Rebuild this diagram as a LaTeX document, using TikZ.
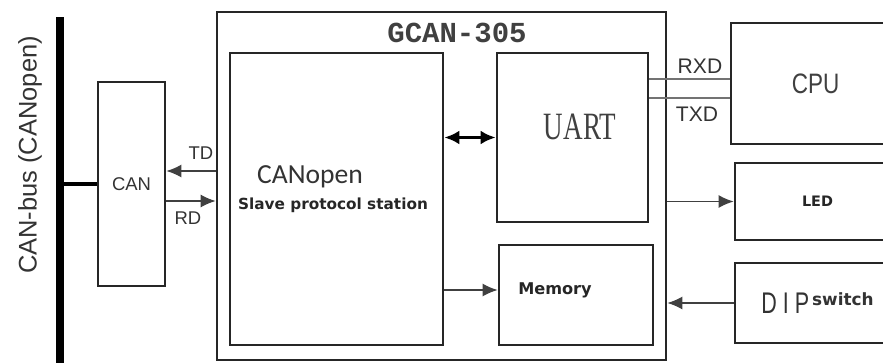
\documentclass[tikz,border=0pt]{standalone}
\usepackage{fontspec}
\setmainfont{Liberation Sans}
\newfontfamily\narrowsans[FakeStretch=0.8]{Liberation Sans}
\newfontfamily\narrowserif[FakeStretch=0.7]{Liberation Serif}
\newfontfamily\titlefont{Liberation Mono}
\newfontfamily\calfont{Carlito}
\newfontfamily\verdfont{DejaVu Sans}
\newfontfamily\dipfont[FakeStretch=0.72,LetterSpace=20]{Liberation Sans}
\usetikzlibrary{positioning, arrows.meta}

\begin{document}
\begin{tikzpicture}[
    x=0.02cm, y=-0.02cm,
    box/.style={rectangle, draw=black!85, line width=1.6pt, inner sep=0pt},
    arrow/.style={-{Latex[length=3mm, width=2.6mm]}, line width=0.8pt, draw=black!75},
    biarrow/.style={{Latex[length=3mm, width=2.8mm]}-{Latex[length=3mm, width=2.8mm]}, line width=2pt},
    sig/.style={line width=1pt, draw=black!55},
    tag/.style={font=\fontsize{10.5}{12}\selectfont, text=black!80, inner sep=1pt},
    bold/.style={font=\verdfont\bfseries, text=black!85, inner sep=0pt}
]
\useasboundingbox (0,0) rectangle (883,362);
\clip (0,0) rectangle (883,362);

% CAN bus
\coordinate (busT) at (60,17);
\coordinate (busB) at (60,366);
\draw[line width=4.5pt] (busT) -- (busB);
\node[rotate=90, font=\fontsize{14.5}{16}\selectfont, text=black!80] (buslbl) at (30,155) {CAN-bus (CANopen)};

% CAN transceiver
\node[box, minimum width=1.34cm, minimum height=4.08cm, font=\fontsize{10.5}{12}\selectfont, text=black!80] (can) at (131.5,184) {CAN};
\draw[line width=2.8pt] (can.west) -- (can.west -| busT);

% GCAN-305 module
\node[box, minimum width=8.98cm, minimum height=6.96cm] (gcan) at (441.5,186) {};
\node[font=\titlefont\bfseries\fontsize{16.5}{18}\selectfont, text=black!75] (title) at (457,33) {GCAN-305};

\node[box, minimum width=4.26cm, minimum height=5.84cm] (canopen) at (336.5,199) {};
\node[font=\calfont\fontsize{15.7}{18}\selectfont, text=black!80] (colbl) at (310,177) {CANopen};
\node[bold, font=\verdfont\bfseries\fontsize{8.7}{10}\selectfont] (slave) at (333,205) {Slave protocol station};

\node[box, minimum width=3.02cm, minimum height=3.38cm] (uart) at (572.5,137.5) {};
\node[font=\narrowserif\fontsize{22}{24}\selectfont, text=black!75] (uartlbl) at (580,127) {UART};

\node[box, minimum width=3.08cm, minimum height=2cm] (mem) at (576,295) {};
\node[bold, font=\verdfont\bfseries\fontsize{9.2}{11}\selectfont] (memlbl) at (555,290) {Memory};

% peripherals
\node[box, minimum width=3.38cm, minimum height=2.42cm, font=\narrowsans\fontsize{16}{18}\selectfont, text=black!75] (cpu) at (815.5,83.5) {CPU};
\node[box, minimum width=3.3cm, minimum height=1.54cm, font=\verdfont\bfseries\fontsize{8.2}{10}\selectfont, text=black!85] (led) at (817.5,201.5) {LED};
\node[box, minimum width=3.3cm, minimum height=1.6cm, text=black!80] (dip) at (817.5,303)
    {{\dipfont\fontsize{17}{20}\selectfont DIP}\,\raisebox{5pt}{\verdfont\bfseries\fontsize{9.6}{11}\selectfont switch}};

% Arrows
\draw[arrow] ([yshift=0.3cm]gcan.west) -- ([yshift=0.3cm]gcan.west -| can.east);
\draw[arrow] ([yshift=-0.3cm]can.east |- gcan.west) -- ([yshift=-0.3cm]gcan.west);
\draw[biarrow] (uart.west -| canopen.east) -- (uart.west);
\draw[arrow] ([yshift=0.1cm]mem.west -| canopen.east) -- ([yshift=0.1cm]mem.west);
\draw[sig] ([yshift=0.09cm]cpu.west -| uart.east) -- ([yshift=0.09cm]cpu.west);
\draw[sig] ([yshift=-0.29cm]cpu.west -| uart.east) -- ([yshift=-0.29cm]cpu.west);
\draw[arrow] (led.west -| gcan.east) -- (led.west);
\draw[arrow] (dip.west) -- (dip.west -| gcan.east);

% Signal labels
\node[tag] (td) at (201,153) {TD};
\node[tag] (rd) at (188,218) {RD};
\node[tag, font=\fontsize{12}{14}\selectfont] (rxd) at (700,66) {RXD};
\node[tag, font=\fontsize{12}{14}\selectfont] (txd) at (697,114) {TXD};

\end{tikzpicture}
\end{document}
